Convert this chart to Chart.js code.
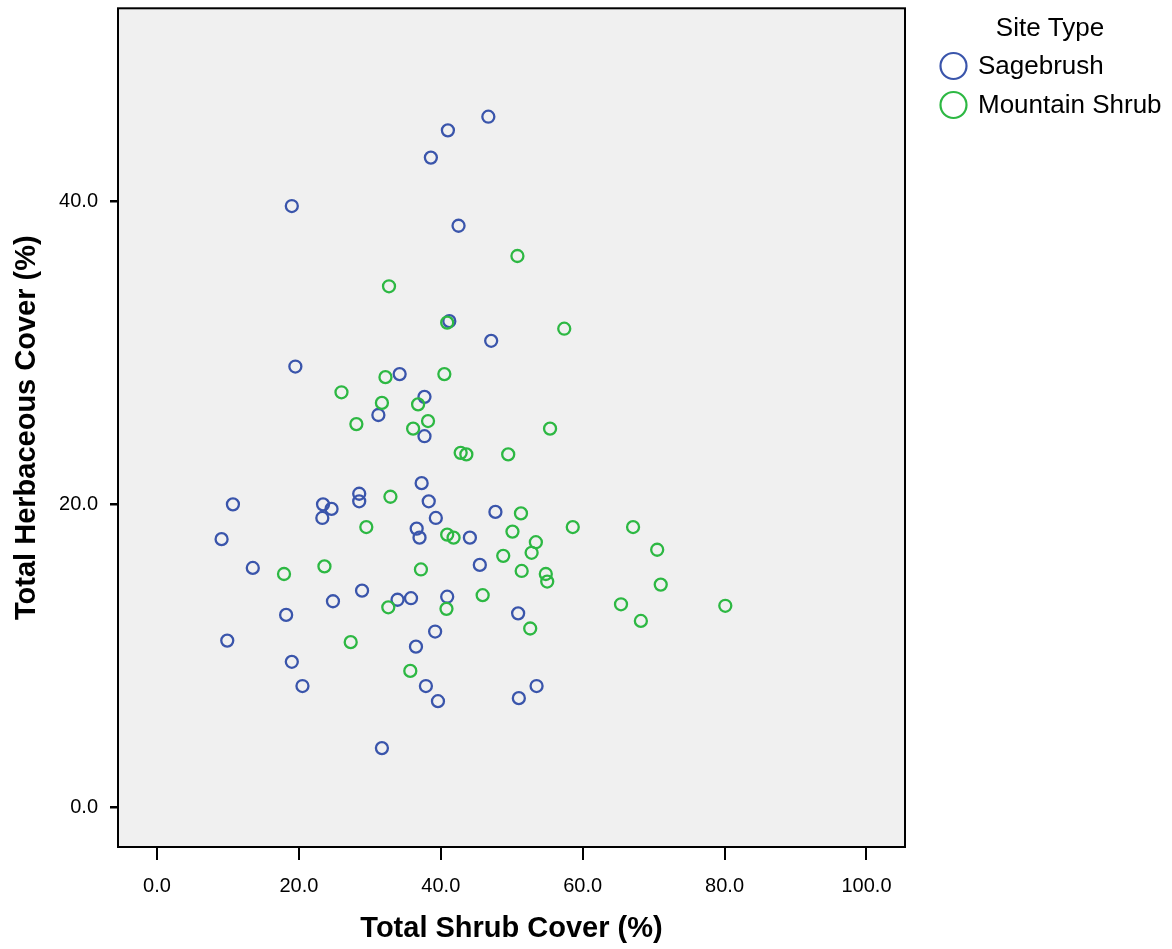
<!DOCTYPE html>
<html>
<head>
<meta charset="utf-8">
<script src="https://cdn.jsdelivr.net/npm/chart.js@4.4.1/dist/chart.umd.min.js"></script>
<style>
    html, body { margin: 0; padding: 0; background: #fff; }
    #wrap { width: 1172px; height: 949px; }
</style>
</head>
<body>
<div id="wrap"><canvas id="myChart" width="1172" height="949"></canvas></div>
<script>
const sageX = [46.7, 41.0, 38.6, 19.0, 42.5, 41.2, 47.1, 19.5, 34.2, 37.7, 31.2, 37.7, 37.3, 10.7, 23.4,
    24.6, 23.3, 28.5, 28.5, 38.3, 39.3, 47.7, 36.6, 37.0, 44.1, 9.1, 45.5, 13.5, 28.9, 24.8,
    33.9, 35.8, 40.9, 18.2, 9.9, 39.2, 36.5, 19.0, 20.5, 37.9, 39.6, 31.7, 50.9, 53.5, 51.0];
const sageY = [45.6, 44.7, 42.9, 39.7, 38.4, 32.1, 30.8, 29.1, 28.6, 27.1, 25.9, 24.5, 21.4, 20.0, 20.0,
    19.7, 19.1, 20.7, 20.2, 20.2, 19.1, 19.5, 18.4, 17.8, 17.8, 17.7, 16.0, 15.8, 14.3, 13.6,
    13.7, 13.8, 13.9, 12.7, 11.0, 11.6, 10.6, 9.6, 8.0, 8.0, 7.0, 3.9, 12.8, 8.0, 7.2];

const shrubX = [50.8, 32.7, 40.9, 57.4, 32.2, 40.5, 26.0, 31.7, 36.8, 38.2, 28.1, 36.1, 55.4, 42.8, 43.6,
    49.5, 32.9, 51.3, 29.5, 40.9, 41.8, 50.1, 53.4, 58.6, 67.1, 70.5, 52.8, 48.8, 17.9, 23.6,
    37.2, 51.4, 54.8, 55.0, 71.0, 45.9, 32.6, 40.8, 65.4, 80.1, 68.2, 52.6, 27.3, 35.7];
const shrubY = [36.4, 34.4, 32.0, 31.6, 28.4, 28.6, 27.4, 26.7, 26.6, 25.5, 25.3, 25.0, 25.0, 23.4, 23.3,
    23.3, 20.5, 19.4, 18.5, 18.0, 17.8, 18.2, 17.5, 18.5, 18.5, 17.0, 16.8, 16.6, 15.4, 15.9,
    15.7, 15.6, 15.4, 14.9, 14.7, 14.0, 13.2, 13.1, 13.4, 13.3, 12.3, 11.8, 10.9, 9.0];

const xTicks = [0, 20, 40, 60, 80, 100];
const yTicks = [0, 20, 40];

const seriesNames = ["Sagebrush", "Mountain Shrub"];
const seriesColors = ["#3a55ab", "#2db843"];
const legendTitle = "Site Type";

const FONT = "'Liberation Sans', Arial, sans-serif";

function toPoints(xs, ys) {
    return xs.map((x, i) => ({x: x, y: ys[i]}));
}

// grey plot background + black frame
const plotFrame = {
    id: 'plotFrame',
    beforeDraw(chart) {
        const {ctx, chartArea: a} = chart;
        ctx.save();
        ctx.fillStyle = "#f0f0f0";
        ctx.fillRect(a.left, a.top, a.right - a.left, a.bottom - a.top);
        ctx.restore();
    },
    afterDraw(chart) {
        const {ctx, chartArea: a} = chart;
        ctx.save();
        ctx.strokeStyle = "#000";
        ctx.lineWidth = 2;
        ctx.strokeRect(a.left, a.top, a.right - a.left, a.bottom - a.top);
        ctx.restore();
    }
};

// legend on the right, like the SPSS one
const sideLegend = {
    id: 'sideLegend',
    afterDraw(chart) {
        const ctx = chart.ctx;
        ctx.save();
        ctx.fillStyle = "#000";
        ctx.font = "26px " + FONT;
        ctx.textBaseline = "middle";
        ctx.textAlign = "center";
        ctx.fillText(legendTitle, 1050, 29);
        ctx.textAlign = "left";
        for (let i = 0; i < seriesNames.length; i++) {
            let cy = 66 + i * 39;
            ctx.beginPath();
            ctx.arc(953.5, cy, 13, 0, Math.PI * 2);
            ctx.strokeStyle = seriesColors[i];
            ctx.lineWidth = 2.2;
            ctx.stroke();
            ctx.fillStyle = "#000";
            ctx.fillText(seriesNames[i], 978, cy + 1);
        }
        ctx.restore();
    }
};

const ctx = document.getElementById('myChart');

new Chart(ctx, {
    type: 'scatter',
    data: {
        datasets: [{
            label: seriesNames[0],
            data: toPoints(sageX, sageY),
            pointBorderColor: seriesColors[0],
            pointBackgroundColor: "rgba(0,0,0,0)",
            pointRadius: 6,
            pointBorderWidth: 2.3,
            order: 2,
        }, {
            label: seriesNames[1],
            data: toPoints(shrubX, shrubY),
            pointBorderColor: seriesColors[1],
            pointBackgroundColor: "rgba(0,0,0,0)",
            pointRadius: 6,
            pointBorderWidth: 2.3,
            order: 1,
        }]
    },
    options: {
        responsive: false,
        animation: false,
        layout: {
            padding: {left: 0, top: 5, right: 267, bottom: 0}
        },
        plugins: {
            legend: { display: false },
            tooltip: { enabled: false }
        },
        scales: {
            x: {
                type: 'linear',
                min: -5.5,
                max: 105.43,
                afterBuildTicks: (axis) => { axis.ticks = xTicks.map((v) => ({value: v})); },
                afterFit: (axis) => {
                    axis.height = 102;
                    axis.paddingLeft = 0;
                    axis.paddingRight = 0;
                },
                ticks: {
                    color: "#000",
                    padding: 14,
                    font: {family: FONT, size: 20},
                    callback: (v) => Number(v).toFixed(1),
                },
                grid: {
                    drawOnChartArea: false,
                    drawTicks: true,
                    tickLength: 13,
                    color: "#000",
                    lineWidth: 2,
                },
                border: { display: false },
                title: {
                    display: true,
                    text: "Total Shrub Cover (%)",
                    color: "#000",
                    font: {family: FONT, size: 29, weight: 'bold'},
                    padding: {top: 0, bottom: 3},
                }
            },
            y: {
                type: 'linear',
                min: -2.63,
                max: 52.76,
                afterBuildTicks: (axis) => { axis.ticks = yTicks.map((v) => ({value: v})); },
                afterFit: (axis) => {
                    axis.width = 118;
                    axis.paddingTop = 0;
                    axis.paddingBottom = 0;
                },
                ticks: {
                    color: "#000",
                    padding: 12,
                    font: {family: FONT, size: 20},
                    callback: (v) => Number(v).toFixed(1),
                },
                grid: {
                    drawOnChartArea: false,
                    drawTicks: true,
                    tickLength: 8,
                    color: "#000",
                    lineWidth: 2.5,
                },
                border: { display: false },
                title: {
                    display: true,
                    text: "Total Herbaceous Cover (%)",
                    color: "#000",
                    font: {family: FONT, size: 29, weight: 'bold'},
                    padding: {top: 10, bottom: 0},
                }
            }
        }
    },
    plugins: [plotFrame, sideLegend]
});
</script>
</body>
</html>
